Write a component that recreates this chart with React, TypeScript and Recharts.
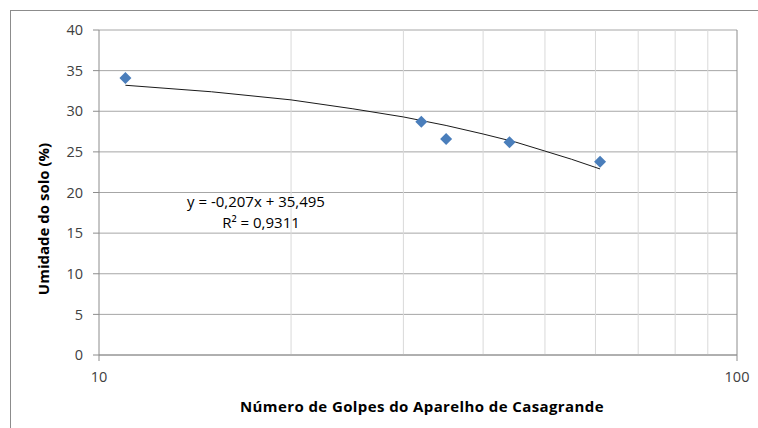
import React from 'react';
import {
  ScatterChart, Scatter, XAxis, YAxis, CartesianGrid, ReferenceLine,
} from 'recharts';

// values
const golpes = [11, 32, 35, 44, 61];
const umidade = [34.1, 28.7, 26.6, 26.2, 23.8];

// trendline y = -0,207x + 35,495 as drawn in the picture
const trendX = [11, 15, 20, 25, 30, 35, 40, 45, 50, 55, 61];
const trendY = [33.2, 32.4, 31.4, 30.3, 29.3, 28.25, 27.2, 26.2, 25.1, 24.1, 22.9];

const xTicks = [10, 100];
const minorGridX = [20, 30, 40, 50, 60, 70, 80, 90];
const yTicks = [0, 5, 10, 15, 20, 25, 30, 35, 40];

const equationText = 'y = -0,207x + 35,495';
const r2Text = 'R² = 0,9311';

const FONT = '"Open Sans", "Liberation Sans", sans-serif';
const TEXT = '#404040';

const points = golpes.map((x, i) => ({ x, y: umidade[i] }));
const trend = trendX.map((x, i) => ({ x, y: trendY[i] }));

const Diamond = (props: any) => {
  const { cx, cy } = props;
  if (cx == null || cy == null) return <g />;
  const r = 6;
  return (
    <polygon
      points={`${cx},${cy - r} ${cx + r},${cy} ${cx},${cy + r} ${cx - r},${cy}`}
      fill="#4a7ebb"
    />
  );
};

export default function App() {
  return (
    <div style={{ position: 'absolute', left: 0, top: 0, width: 758, height: 428, overflow: 'hidden', background: '#fff', fontFamily: FONT }}>
      {/* chart area border, runs off the right/bottom edge like the original */}
      <div style={{ position: 'absolute', left: 10, top: 10, width: 800, height: 500, border: '1px solid #8c8c8c' }} />

      <ScatterChart
        width={758}
        height={428}
        margin={{ top: 30, right: 21, bottom: 43, left: 39 }}
        style={{ position: 'absolute', left: 0, top: 0 }}
      >
        <CartesianGrid stroke="#a6a6a6" vertical={false} />
        {minorGridX.map((v) => (
          <ReferenceLine key={v} x={v} stroke="#d9d9d9" ifOverflow="hidden" />
        ))}
        <ReferenceLine x={100} stroke="#8c8c8c" />
        <XAxis
          type="number"
          dataKey="x"
          scale="log"
          domain={[10, 100]}
          ticks={xTicks}
          allowDataOverflow
          height={30}
          stroke="#8c8c8c"
          tickSize={6}
          tickMargin={11}
          tick={{ fill: TEXT, fontSize: 14.5, fontFamily: FONT }}
        />
        <YAxis
          type="number"
          dataKey="y"
          domain={[0, 40]}
          ticks={yTicks}
          width={60}
          stroke="#8c8c8c"
          tickSize={6}
          tickMargin={10}
          tick={{ fill: TEXT, fontSize: 14.5, fontFamily: FONT }}
        />
        <Scatter
          data={trend}
          line={{ stroke: '#1a1a1a', strokeWidth: 1 }}
          lineType="joint"
          shape={() => <g />}
          isAnimationActive={false}
        />
        <Scatter data={points} shape={<Diamond />} isAnimationActive={false} />
      </ScatterChart>

      <div style={{ position: 'absolute', left: 156, width: 200, top: 191, textAlign: 'center', fontSize: 15, color: '#000', lineHeight: '20px' }}>
        {equationText}
      </div>
      <div style={{ position: 'absolute', left: 161, width: 200, top: 212, textAlign: 'center', fontSize: 15, color: '#000', lineHeight: '20px' }}>
        {r2Text}
      </div>

      <div style={{ position: 'absolute', left: 222, width: 400, top: 395, textAlign: 'center', fontSize: 15, fontWeight: 700, letterSpacing: 0.4, color: '#000', lineHeight: '22px' }}>
        Número de Golpes do Aparelho de Casagrande
      </div>
      <div style={{ position: 'absolute', left: 43 - 100, top: 219 - 11, width: 200, height: 22, lineHeight: '22px', textAlign: 'center', fontSize: 15, fontWeight: 700, color: '#000', transform: 'rotate(-90deg)' }}>
        Umidade do solo (%)
      </div>
    </div>
  );
}
